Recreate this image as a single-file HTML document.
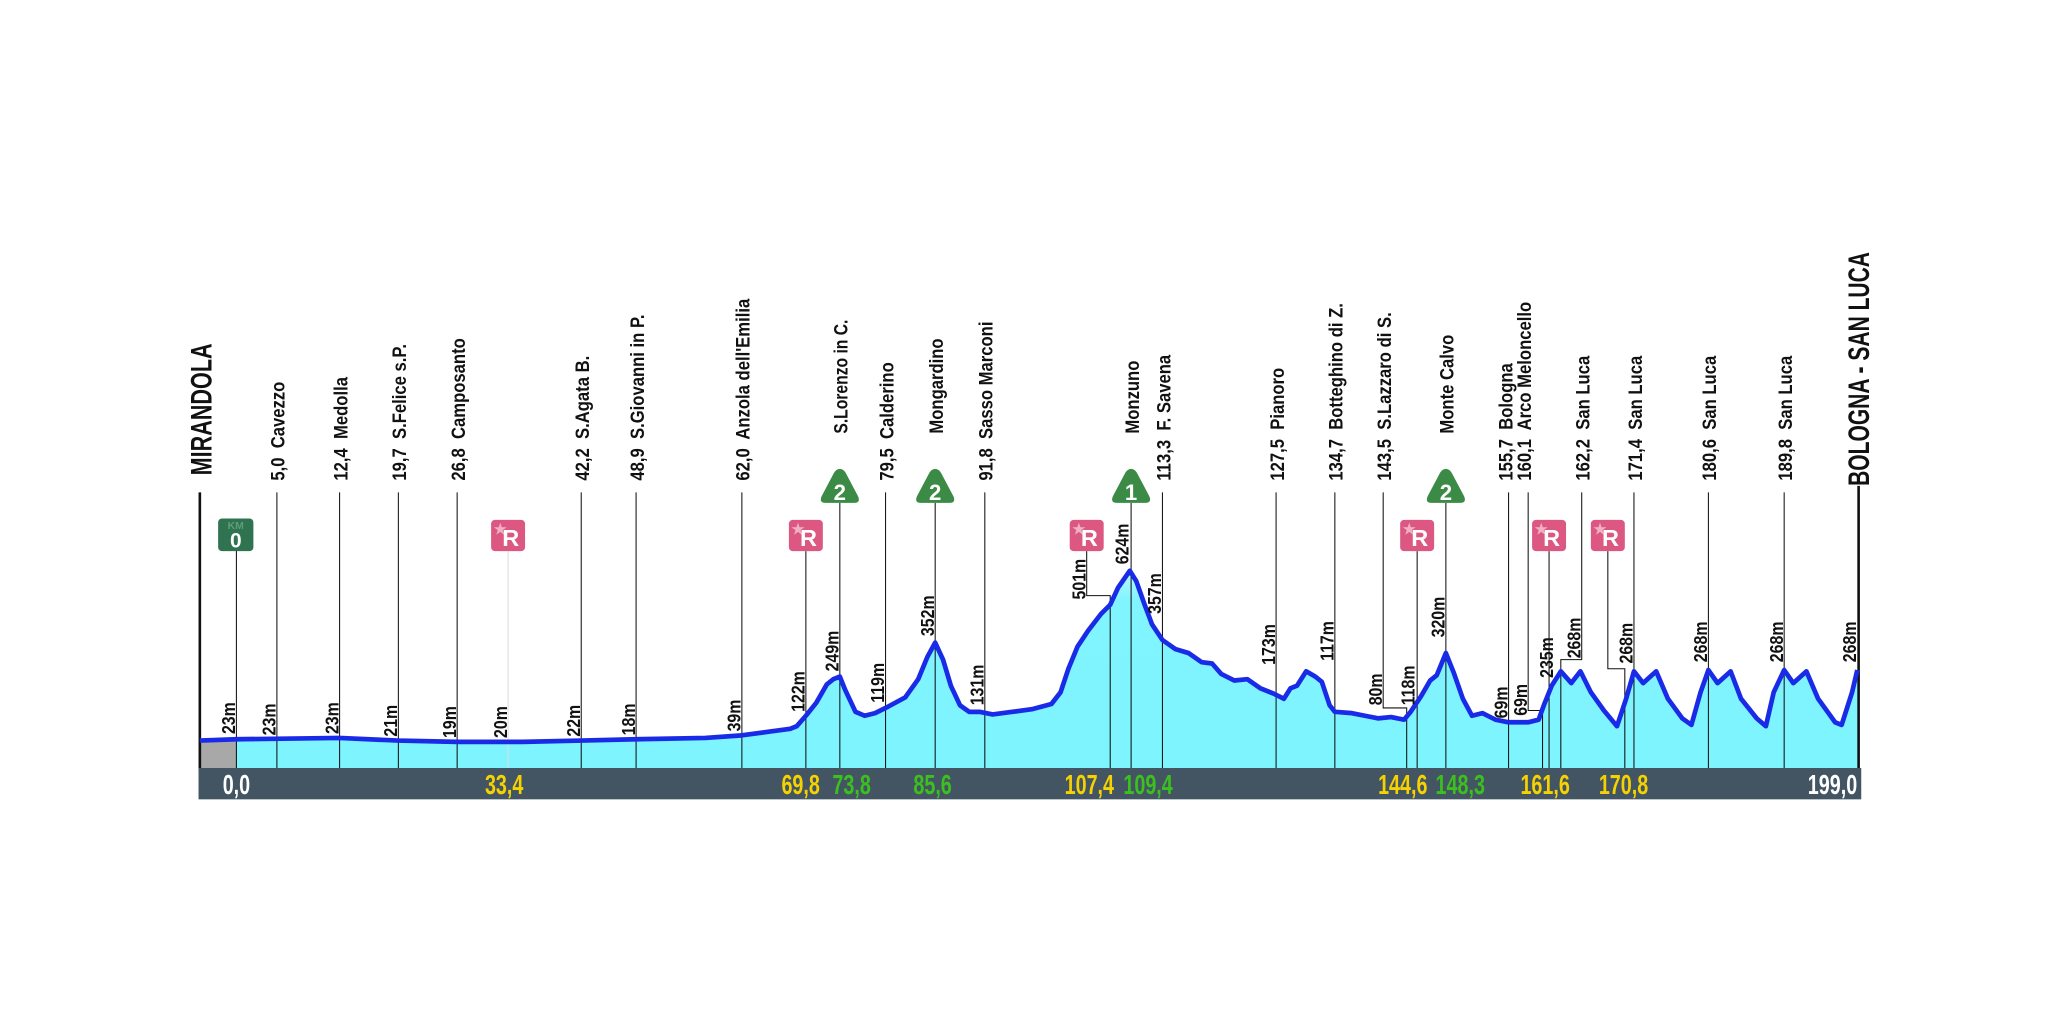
<!DOCTYPE html>
<html><head><meta charset="utf-8"><style>
html,body{margin:0;padding:0;background:#fff;}
svg{display:block;}
text{font-family:"Liberation Sans Narrow","Liberation Sans",sans-serif;font-weight:bold;white-space:pre;}
.lb{font-size:15px;fill:#111;}
.al{font-size:14px;fill:#111;}
.bn{font-size:21px;}
</style></head><body>
<svg width="2048" height="1024" viewBox="0 0 1568 784" xmlns="http://www.w3.org/2000/svg">
<defs>
<linearGradient id="g" x1="0" y1="0" x2="0" y2="1"><stop offset="0" stop-color="#b8faff"/><stop offset="0.15" stop-color="#80f4ff"/><stop offset="1" stop-color="#7ef4ff"/></linearGradient>
</defs>
<path id="prof" d="M153,567 L181,566 L260,565 L305,567 L350,568 L400,568 L445,567 L487,566 L540,565 L568,563 L590,560 L605,558 L610,556 L617,548 L625,538 L633,524 L638,520 L643,518 L647,528 L655,545 L662,548 L670,546 L680,541 L693,534 L703,520 L710,503 L716,492 L722,505 L728,525 L735,540 L742,545 L750,545 L760,547 L775,545 L790,543 L805,539 L812,530 L818,512 L825,495 L833,483 L843,470 L850,463 L856,450 L865,437 L870,445 L876,462 L882,478 L890,490 L900,497 L910,500 L920,507 L928,508 L935,516 L945,521 L955,520 L965,527 L975,531 L983,535 L988,527 L993,525 L1000,514 L1007,518 L1012,522 L1018,540 L1022,545 L1035,546 L1045,548 L1055,550 L1065,549 L1075,551 L1080,545 L1088,533 L1095,521 L1100,517 L1107,500 L1113,515 L1120,535 L1127,548 L1135,546 L1145,551 L1155,553 L1170,553 L1178,551 L1182,540 L1188,525 L1195,514 L1203,523 L1210,514 L1218,530 L1228,544 L1238,556 L1245,535 L1251,514 L1258,523 L1268,514 L1277,535 L1288,550 L1295,555 L1302,530 L1308,513 L1315,523 L1325,514 L1333,535 L1345,550 L1352,556 L1358,530 L1366,513 L1373,523 L1383,514 L1392,535 L1405,553 L1410,555 L1418,530 L1422,513" fill="none"/>
<path d="M153,567 L181,566 L260,565 L305,567 L350,568 L400,568 L445,567 L487,566 L540,565 L568,563 L590,560 L605,558 L610,556 L617,548 L625,538 L633,524 L638,520 L643,518 L647,528 L655,545 L662,548 L670,546 L680,541 L693,534 L703,520 L710,503 L716,492 L722,505 L728,525 L735,540 L742,545 L750,545 L760,547 L775,545 L790,543 L805,539 L812,530 L818,512 L825,495 L833,483 L843,470 L850,463 L856,450 L865,437 L870,445 L876,462 L882,478 L890,490 L900,497 L910,500 L920,507 L928,508 L935,516 L945,521 L955,520 L965,527 L975,531 L983,535 L988,527 L993,525 L1000,514 L1007,518 L1012,522 L1018,540 L1022,545 L1035,546 L1045,548 L1055,550 L1065,549 L1075,551 L1080,545 L1088,533 L1095,521 L1100,517 L1107,500 L1113,515 L1120,535 L1127,548 L1135,546 L1145,551 L1155,553 L1170,553 L1178,551 L1182,540 L1188,525 L1195,514 L1203,523 L1210,514 L1218,530 L1228,544 L1238,556 L1245,535 L1251,514 L1258,523 L1268,514 L1277,535 L1288,550 L1295,555 L1302,530 L1308,513 L1315,523 L1325,514 L1333,535 L1345,550 L1352,556 L1358,530 L1366,513 L1373,523 L1383,514 L1392,535 L1405,553 L1410,555 L1418,530 L1422,513 L1423,588 L153,588 Z" fill="url(#g)"/>
<rect x="153" y="566" width="28" height="22" fill="#a8a8a8"/>

<g stroke="#111" stroke-width="0.8" fill="none">
<line x1="181" y1="420" x2="181" y2="588"/>
<line x1="212" y1="377" x2="212" y2="588"/>
<line x1="260" y1="377" x2="260" y2="588"/>
<line x1="305" y1="377" x2="305" y2="588"/>
<line x1="350" y1="377" x2="350" y2="588"/>
<line x1="389" y1="422" x2="389" y2="588" stroke="#ddd"/>
<line x1="445" y1="377" x2="445" y2="588"/>
<line x1="487" y1="377" x2="487" y2="588"/>
<line x1="568" y1="377" x2="568" y2="588"/>
<line x1="617" y1="422" x2="617" y2="588"/>
<line x1="643" y1="385" x2="643" y2="588"/>
<line x1="678" y1="377" x2="678" y2="588"/>
<line x1="716" y1="385" x2="716" y2="588"/>
<line x1="754" y1="377" x2="754" y2="588"/>
<polyline points="832,422 832,456 850,456 850,588"/>
<line x1="866" y1="385" x2="866" y2="588"/>
<line x1="890" y1="377" x2="890" y2="588"/>
<line x1="977" y1="377" x2="977" y2="588"/>
<line x1="1022" y1="377" x2="1022" y2="588"/>
<polyline points="1059,377 1059,542 1077,542 1077,588"/>
<line x1="1085" y1="422" x2="1085" y2="588"/>
<line x1="1107" y1="385" x2="1107" y2="588"/>
<line x1="1155" y1="377" x2="1155" y2="588"/>
<polyline points="1170,377 1170,544 1181,544 1181,588"/>
<line x1="1186" y1="422" x2="1186" y2="588"/>
<polyline points="1211,377 1211,505 1195,505 1195,588"/>
<polyline points="1231,422 1231,512 1244,512 1244,588"/>
<line x1="1251" y1="377" x2="1251" y2="588"/>
<line x1="1308" y1="377" x2="1308" y2="588"/>
<line x1="1366" y1="377" x2="1366" y2="588"/>
</g>
<line x1="153" y1="377" x2="153" y2="590" stroke="#111" stroke-width="2"/>
<line x1="1423" y1="372" x2="1423" y2="590" stroke="#111" stroke-width="2"/>

<use href="#prof" stroke="#1a2be8" stroke-width="3.6" stroke-linejoin="round"/>

<rect x="152" y="588" width="1273" height="24" fill="#435563"/>
<g class="bn" text-anchor="middle">
<text transform="translate(181,608) scale(0.72,1)" fill="#fff">0,0</text>
<text transform="translate(386,608) scale(0.72,1)" fill="#f5d200">33,4</text>
<text transform="translate(613,608) scale(0.72,1)" fill="#f5d200">69,8</text>
<text transform="translate(652,608) scale(0.72,1)" fill="#3cc01e">73,8</text>
<text transform="translate(714,608) scale(0.72,1)" fill="#3cc01e">85,6</text>
<text transform="translate(834,608) scale(0.72,1)" fill="#f5d200">107,4</text>
<text transform="translate(879,608) scale(0.72,1)" fill="#3cc01e">109,4</text>
<text transform="translate(1074,608) scale(0.72,1)" fill="#f5d200">144,6</text>
<text transform="translate(1118,608) scale(0.72,1)" fill="#3cc01e">148,3</text>
<text transform="translate(1183,608) scale(0.72,1)" fill="#f5d200">161,6</text>
<text transform="translate(1243,608) scale(0.72,1)" fill="#f5d200">170,8</text>
<text transform="translate(1403,608) scale(0.72,1)" fill="#fff">199,0</text>
</g>

<text transform="translate(162,364) rotate(-90) scale(0.72,1)" style="font-size:23px" fill="#111">MIRANDOLA</text>
<text transform="translate(1431,372) rotate(-90) scale(0.7,1)" style="font-size:23px" fill="#111">BOLOGNA - SAN LUCA</text>
<g class="lb">
<text transform="translate(218,368) rotate(-90) scale(0.85,1)">5,0  Cavezzo</text>
<text transform="translate(266,368) rotate(-90) scale(0.85,1)">12,4  Medolla</text>
<text transform="translate(311,368) rotate(-90) scale(0.85,1)">19,7  S.Felice s.P.</text>
<text transform="translate(356,368) rotate(-90) scale(0.85,1)">26,8  Camposanto</text>
<text transform="translate(451,368) rotate(-90) scale(0.85,1)">42,2  S.Agata B.</text>
<text transform="translate(493,368) rotate(-90) scale(0.85,1)">48,9  S.Giovanni in P.</text>
<text transform="translate(574,368) rotate(-90) scale(0.85,1)">62,0  Anzola dell'Emilia</text>
<text transform="translate(649,332) rotate(-90) scale(0.8,1)">S.Lorenzo in C.</text>
<text transform="translate(684,368) rotate(-90) scale(0.85,1)">79,5  Calderino</text>
<text transform="translate(722,332) rotate(-90) scale(0.85,1)">Mongardino</text>
<text transform="translate(760,368) rotate(-90) scale(0.85,1)">91,8  Sasso Marconi</text>
<text transform="translate(872,332) rotate(-90) scale(0.85,1)">Monzuno</text>
<text transform="translate(896,368) rotate(-90) scale(0.85,1)">113,3  F. Savena</text>
<text transform="translate(983,368) rotate(-90) scale(0.85,1)">127,5  Pianoro</text>
<text transform="translate(1028,368) rotate(-90) scale(0.85,1)">134,7  Botteghino di Z.</text>
<text transform="translate(1065,368) rotate(-90) scale(0.85,1)">143,5  S.Lazzaro di S.</text>
<text transform="translate(1113,332) rotate(-90) scale(0.85,1)">Monte Calvo</text>
<text transform="translate(1158,368) rotate(-90) scale(0.85,1)">155,7  Bologna</text>
<text transform="translate(1172,368) rotate(-90) scale(0.85,1)">160,1  Arco Meloncello</text>
<text transform="translate(1217,368) rotate(-90) scale(0.85,1)">162,2  San Luca</text>
<text transform="translate(1257,368) rotate(-90) scale(0.85,1)">171,4  San Luca</text>
<text transform="translate(1314,368) rotate(-90) scale(0.85,1)">180,6  San Luca</text>
<text transform="translate(1372,368) rotate(-90) scale(0.85,1)">189,8  San Luca</text>
</g>

<g class="al">
<text transform="translate(180,562) rotate(-90) scale(0.87,1)">23m</text>
<text transform="translate(211,563) rotate(-90) scale(0.87,1)">23m</text>
<text transform="translate(259,562) rotate(-90) scale(0.87,1)">23m</text>
<text transform="translate(304,564) rotate(-90) scale(0.87,1)">21m</text>
<text transform="translate(349,565) rotate(-90) scale(0.87,1)">19m</text>
<text transform="translate(388,565) rotate(-90) scale(0.87,1)">20m</text>
<text transform="translate(444,564) rotate(-90) scale(0.87,1)">22m</text>
<text transform="translate(486,563) rotate(-90) scale(0.87,1)">18m</text>
<text transform="translate(567,560) rotate(-90) scale(0.87,1)">39m</text>
<text transform="translate(616,545) rotate(-90) scale(0.87,1)">122m</text>
<text transform="translate(642,514) rotate(-90) scale(0.87,1)">249m</text>
<text transform="translate(677,538) rotate(-90) scale(0.87,1)">119m</text>
<text transform="translate(715,487) rotate(-90) scale(0.87,1)">352m</text>
<text transform="translate(753,540) rotate(-90) scale(0.87,1)">131m</text>
<text transform="translate(831,459) rotate(-90) scale(0.87,1)">501m</text>
<text transform="translate(864,432) rotate(-90) scale(0.87,1)">624m</text>
<text transform="translate(889,470) rotate(-90) scale(0.87,1)">357m</text>
<text transform="translate(976,509) rotate(-90) scale(0.87,1)">173m</text>
<text transform="translate(1021,506) rotate(-90) scale(0.87,1)">117m</text>
<text transform="translate(1058,540) rotate(-90) scale(0.87,1)">80m</text>
<text transform="translate(1083,540) rotate(-90) scale(0.87,1)">118m</text>
<text transform="translate(1106,488) rotate(-90) scale(0.87,1)">320m</text>
<text transform="translate(1154,550) rotate(-90) scale(0.87,1)">69m</text>
<text transform="translate(1169,548) rotate(-90) scale(0.87,1)">69m</text>
<text transform="translate(1189,519) rotate(-90) scale(0.87,1)">235m</text>
<text transform="translate(1210,504) rotate(-90) scale(0.87,1)">268m</text>
<text transform="translate(1250,508) rotate(-90) scale(0.87,1)">268m</text>
<text transform="translate(1307,507) rotate(-90) scale(0.87,1)">268m</text>
<text transform="translate(1365,507) rotate(-90) scale(0.87,1)">268m</text>
<text transform="translate(1421,507) rotate(-90) scale(0.87,1)">268m</text>
</g>

<rect x="167" y="397" width="27" height="25" rx="3" fill="#2f7350"/>
<text x="180.5" y="405" text-anchor="middle" style="font-size:8px" fill="#5e9d7a">KM</text>
<text x="180.5" y="419" text-anchor="middle" style="font-size:16px" fill="#fff">0</text>

<g>
<g transform="translate(389,410)"><rect x="-13" y="-12" width="26" height="24" rx="3" fill="#dc5882"/><text x="-11" y="-1" style="font-size:11px" fill="#f0b0c8">★</text><text x="2" y="8" text-anchor="middle" style="font-size:18px" fill="#fff">R</text></g>
<g transform="translate(617,410)"><rect x="-13" y="-12" width="26" height="24" rx="3" fill="#dc5882"/><text x="-11" y="-1" style="font-size:11px" fill="#f0b0c8">★</text><text x="2" y="8" text-anchor="middle" style="font-size:18px" fill="#fff">R</text></g>
<g transform="translate(832,410)"><rect x="-13" y="-12" width="26" height="24" rx="3" fill="#dc5882"/><text x="-11" y="-1" style="font-size:11px" fill="#f0b0c8">★</text><text x="2" y="8" text-anchor="middle" style="font-size:18px" fill="#fff">R</text></g>
<g transform="translate(1085,410)"><rect x="-13" y="-12" width="26" height="24" rx="3" fill="#dc5882"/><text x="-11" y="-1" style="font-size:11px" fill="#f0b0c8">★</text><text x="2" y="8" text-anchor="middle" style="font-size:18px" fill="#fff">R</text></g>
<g transform="translate(1186,410)"><rect x="-13" y="-12" width="26" height="24" rx="3" fill="#dc5882"/><text x="-11" y="-1" style="font-size:11px" fill="#f0b0c8">★</text><text x="2" y="8" text-anchor="middle" style="font-size:18px" fill="#fff">R</text></g>
<g transform="translate(1231,410)"><rect x="-13" y="-12" width="26" height="24" rx="3" fill="#dc5882"/><text x="-11" y="-1" style="font-size:11px" fill="#f0b0c8">★</text><text x="2" y="8" text-anchor="middle" style="font-size:18px" fill="#fff">R</text></g>
</g>

<g>
<g transform="translate(643,0)"><path d="M0,359 Q3,359 5,363 L14,380 Q16,385 11,385 L-11,385 Q-16,385 -14,380 L-5,363 Q-3,359 0,359Z" fill="#3b8a46"/><text x="0" y="383" text-anchor="middle" style="font-size:17px" fill="#fff">2</text></g>
<g transform="translate(716,0)"><path d="M0,359 Q3,359 5,363 L14,380 Q16,385 11,385 L-11,385 Q-16,385 -14,380 L-5,363 Q-3,359 0,359Z" fill="#3b8a46"/><text x="0" y="383" text-anchor="middle" style="font-size:17px" fill="#fff">2</text></g>
<g transform="translate(866,0)"><path d="M0,359 Q3,359 5,363 L14,380 Q16,385 11,385 L-11,385 Q-16,385 -14,380 L-5,363 Q-3,359 0,359Z" fill="#3b8a46"/><text x="0" y="383" text-anchor="middle" style="font-size:17px" fill="#fff">1</text></g>
<g transform="translate(1107,0)"><path d="M0,359 Q3,359 5,363 L14,380 Q16,385 11,385 L-11,385 Q-16,385 -14,380 L-5,363 Q-3,359 0,359Z" fill="#3b8a46"/><text x="0" y="383" text-anchor="middle" style="font-size:17px" fill="#fff">2</text></g>
</g>
</svg>
</body></html>
